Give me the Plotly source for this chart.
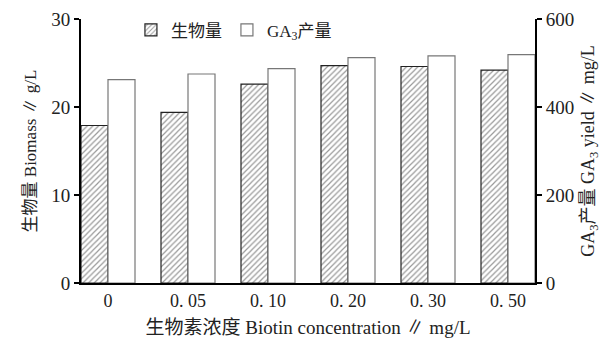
import plotly.graph_objects as go

categories = ["0", "0. 05", "0. 10", "0. 20", "0. 30", "0. 50"]
biomass = [17.9, 19.4, 22.6, 24.7, 24.6, 24.2]
ga3_yield = [462, 475, 487, 512, 516, 519]

FONT = "Liberation Serif, Times New Roman, Noto Sans CJK SC, serif"

fig = go.Figure()
fig.add_trace(go.Bar(
    x=categories, y=biomass, name="生物量", yaxis="y", offsetgroup="1",
    marker=dict(color="white", line=dict(color="#222", width=1.2),
                pattern=dict(shape="/", fgcolor="#333", bgcolor="white", size=4, solidity=0.3)),
))
fig.add_trace(go.Bar(
    x=categories, y=ga3_yield, name="GA<sub>3</sub>产量", yaxis="y2", offsetgroup="2",
    marker=dict(color="white", line=dict(color="#777", width=1.2)),
))

fig.update_layout(
    width=609, height=340,
    margin=dict(l=81, r=74, t=16, b=57),
    paper_bgcolor="white", plot_bgcolor="white",
    font=dict(family=FONT, size=17, color="#222"),
    barmode="group", bargap=0.325, bargroupgap=0,
    showlegend=True,
    legend=dict(orientation="h", x=0.11, y=1.025, xanchor="left", yanchor="top",
                bgcolor="rgba(0,0,0,0)", font=dict(size=17), itemwidth=30),
    xaxis=dict(
        range=[-0.3375, 5.3375], showline=True, linecolor="black", linewidth=2,
        ticks="", showgrid=False, tickfont=dict(size=18), automargin=False,
        title=dict(text="生物素浓度 Biotin concentration ∥ mg/L", font=dict(size=19), standoff=11),
    ),
    yaxis=dict(
        range=[0, 30], tickvals=[0, 10, 20, 30], showline=True, linecolor="black", linewidth=2,
        ticks="outside", ticklen=5, tickwidth=2, tickcolor="black", showgrid=False, zeroline=False,
        tickfont=dict(size=19), automargin=False,
        title=dict(text="生物量 Biomass ∥ g/L", font=dict(size=17), standoff=10),
    ),
    yaxis2=dict(
        range=[0, 600], tickvals=[0, 200, 400, 600], overlaying="y", side="right",
        showline=True, linecolor="black", linewidth=2,
        ticks="outside", ticklen=5, tickwidth=2, tickcolor="black", showgrid=False, zeroline=False,
        tickfont=dict(size=19), automargin=False,
        title=dict(text="GA<sub>3</sub>产量 GA<sub>3</sub> yield ∥ mg/L", font=dict(size=18), standoff=8),
    ),
)

fig.write_html("out.html")
